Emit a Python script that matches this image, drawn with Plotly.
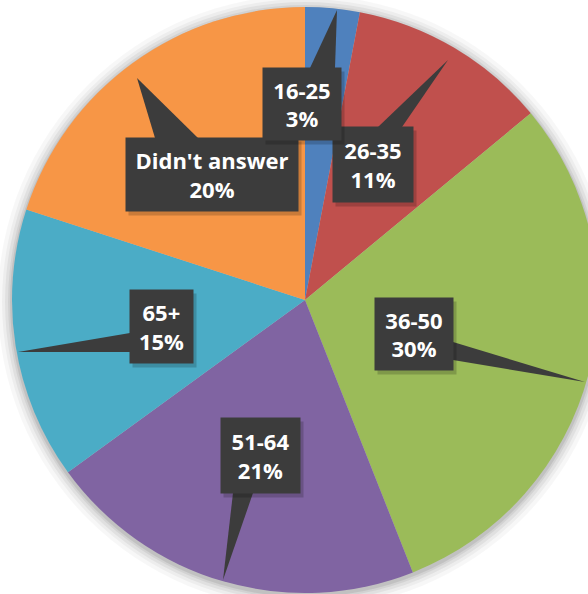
import plotly.graph_objects as go


COLORS = ["#4F81BD", "#C0504D", "#9BBB59", "#8064A2", "#4BACC6", "#F79646"]

labels = ["16-25", "26-35", "36-50", "51-64", "65+", "Didn't answer"]
values = [3, 11, 30, 21, 15, 20]

# figure is a bit larger than the window so the pie can run off the right edge
W, H = 600, 600

# pie centre / radius in window pixels
CX, CY, R = 305, 300, 293


def to_paper(x, y):
    return x / W, 1 - y / H


# callout boxes (x0, y0, x1, y1) and tails (base1, base2, tip), window pixels
boxes = {
    "16-25": ((263, 68, 341, 140), ((310, 68), (335, 68), (337, 10))),
    "26-35": ((333, 127, 413, 202), ((378, 127), (402, 127), (448, 60))),
    "36-50": ((375, 298, 453, 370), ((453, 342), (453, 360), (585, 382))),
    "51-64": ((221, 418, 300, 493), ((233, 493), (253, 493), (223, 580))),
    "65+": ((130, 290, 193, 363), ((130, 333), (130, 352), (18, 352))),
    "Didn't answer": ((126, 138, 298, 211), ((155, 138), (198, 138), (137, 78))),
}
draw_order = ["Didn't answer", "26-35", "16-25", "36-50", "65+", "51-64"]

px0, py1 = to_paper(CX - R, CY - R)
px1, py0 = to_paper(CX + R, CY + R)

fig = go.Figure(
    go.Pie(
        labels=labels,
        values=values,
        sort=False,
        direction="clockwise",
        rotation=0,
        textinfo="none",
        marker=dict(colors=COLORS, line=dict(width=0)),
        domain=dict(x=[max(px0, 0), min(px1, 1)], y=[max(py0, 0), min(py1, 1)]),
    )
)

shapes = []

# soft glow around the pie
for dr, op in [(14, 0.03), (10, 0.04), (7, 0.05), (4, 0.06), (2, 0.08)]:
    r = R + dr
    gx0, gy1 = to_paper(CX - r, CY - r + 2)
    gx1, gy0 = to_paper(CX + r, CY + r + 2)
    shapes.append(dict(
        type="circle", xref="paper", yref="paper", layer="below",
        x0=gx0, x1=gx1, y0=gy0, y1=gy1,
        fillcolor="rgba(0,0,0,%s)" % op, line=dict(width=0),
    ))

BOX = "#3c3c3c"
annotations = []
for lab in draw_order:
    (x0, y0, x1, y1), tail = boxes[lab]
    pts = [to_paper(*p) for p in tail]
    path = "M %f %f L %f %f L %f %f Z" % (pts[0][0], pts[0][1], pts[1][0], pts[1][1], pts[2][0], pts[2][1])
    shapes.append(dict(type="path", xref="paper", yref="paper", path=path,
                       fillcolor=BOX, line=dict(width=0), layer="above"))

for lab in draw_order:
    (x0, y0, x1, y1), tail = boxes[lab]
    val = values[labels.index(lab)]
    cx, cy = to_paper((x0 + x1) / 2, (y0 + y1) / 2)
    # drop shadow
    sx, sy = to_paper((x0 + x1) / 2 + 3, (y0 + y1) / 2 + 4)
    annotations.append(dict(
        x=sx, y=sy, xref="paper", yref="paper", xanchor="center", yanchor="middle",
        text=" ", showarrow=False, width=x1 - x0, height=y1 - y0,
        bgcolor="rgba(0,0,0,0.18)", borderpad=0,
    ))
    annotations.append(dict(
        x=cx, y=cy, xref="paper", yref="paper", xanchor="center", yanchor="middle",
        text="<b>%s<br>%d%%</b>" % (lab, val), showarrow=False,
        width=x1 - x0, height=y1 - y0,
        bgcolor=BOX, borderpad=0, align="center", valign="middle",
        font=dict(family="Open Sans", size=22, color="white"),
    ))

fig.update_layout(
    width=W,
    height=H,
    margin=dict(l=0, r=0, t=0, b=0),
    showlegend=False,
    paper_bgcolor="white",
    plot_bgcolor="white",
    shapes=shapes,
    annotations=annotations,
)

# no body margin, no scrollbars: the window shows the top-left 588x594 of the figure
fig.write_html(
    "out.html",
    config={"displayModeBar": False},
    post_script="document.body.style.margin='0';document.body.style.overflow='hidden';",
)
